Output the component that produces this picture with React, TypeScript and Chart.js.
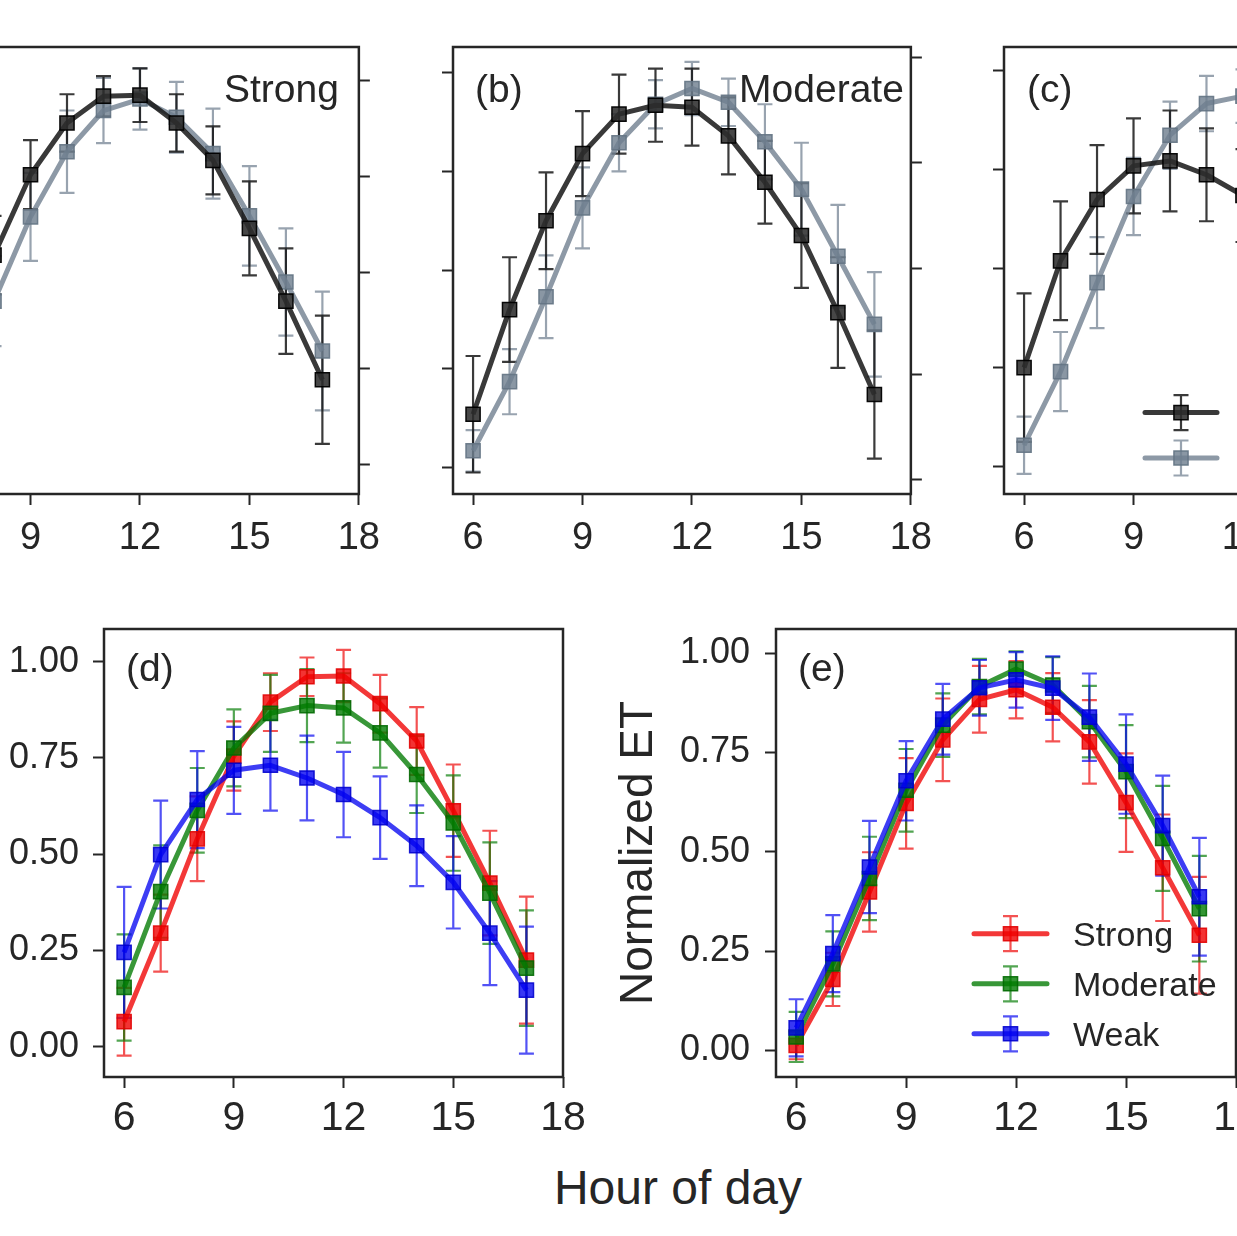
import React, { useEffect, useRef } from "react";
import { Chart, registerables } from "chart.js";

Chart.register(...registerables);

const FONT = "'Liberation Sans', Arial, Helvetica, sans-serif";
const INK = "#262626";

// ---------- data ----------
const hours = [6, 7, 8, 9, 10, 11, 12, 13, 14, 15, 16, 17];
const xTickValues = [6, 9, 12, 15, 18];
const topTickValues = [0, 1, 2, 3, 4];
const normTickValues = [0, 0.25, 0.5, 0.75, 1.0];
const normTickLabels = ["0.00", "0.25", "0.50", "0.75", "1.00"];
const strengthNames = ["Strong", "Moderate", "Weak"];

// panel (a) – Strong (values in the panel's own, unlabelled axis units)
const aBlack = [0.45, 1.3, 2.18, 3.02, 3.56, 3.84, 3.85, 3.56, 3.17, 2.46, 1.7, 0.88];
const aBlackErr = [0.45, 0.43, 0.41, 0.36, 0.3, 0.21, 0.28, 0.3, 0.355, 0.49, 0.55, 0.67];
const aGray = [0.25, 0.9, 1.7, 2.58, 3.26, 3.69, 3.81, 3.62, 3.24, 2.59, 1.9, 1.18];
const aGrayErr = [0.45, 0.47, 0.47, 0.46, 0.43, 0.34, 0.32, 0.37, 0.47, 0.52, 0.56, 0.62];

// panel (b) – Moderate
const bBlack = [0.54, 1.6, 2.5, 3.18, 3.58, 3.67, 3.65, 3.36, 2.89, 2.35, 1.57, 0.74];
const bBlackErr = [0.59, 0.53, 0.49, 0.43, 0.4, 0.37, 0.39, 0.39, 0.42, 0.53, 0.56, 0.65];
const bGray = [0.17, 0.87, 1.73, 2.63, 3.29, 3.68, 3.84, 3.7, 3.3, 2.82, 2.14, 1.45];
const bGrayErr = [0.21, 0.33, 0.42, 0.41, 0.29, 0.245, 0.27, 0.24, 0.38, 0.47, 0.52, 0.53];

// panel (c) – Weak
const cBlack = [1.0, 2.08, 2.7, 3.04, 3.09, 2.95, 2.74, 2.4, 1.95, 1.45, 0.95, 0.45];
const cBlackErr = [0.75, 0.6, 0.55, 0.48, 0.51, 0.47, 0.47, 0.48, 0.5, 0.55, 0.6, 0.65];
const cGray = [0.215, 0.96, 1.86, 2.73, 3.35, 3.67, 3.745, 3.6, 3.3, 2.9, 2.4, 1.8];
const cGrayErr = [0.29, 0.4, 0.46, 0.39, 0.34, 0.28, 0.27, 0.3, 0.35, 0.4, 0.45, 0.5];

// panel (d) – normalized
const dStrong = [0.065, 0.295, 0.54, 0.755, 0.895, 0.961, 0.963, 0.891, 0.794, 0.613, 0.425, 0.225];
const dStrongErr = [0.088, 0.1, 0.11, 0.09, 0.075, 0.05, 0.068, 0.075, 0.088, 0.12, 0.136, 0.165];
const dModerate = [0.154, 0.403, 0.614, 0.776, 0.866, 0.886, 0.88, 0.815, 0.707, 0.581, 0.399, 0.204];
const dModerateErr = [0.138, 0.12, 0.11, 0.1, 0.1, 0.095, 0.09, 0.09, 0.1, 0.124, 0.132, 0.15];
const dWeak = [0.245, 0.499, 0.642, 0.718, 0.731, 0.698, 0.655, 0.595, 0.522, 0.427, 0.295, 0.147];
const dWeakErr = [0.17, 0.14, 0.126, 0.113, 0.118, 0.11, 0.111, 0.107, 0.105, 0.12, 0.135, 0.165];

// panel (e) – normalized ET
const eStrong = [0.013, 0.179, 0.399, 0.622, 0.782, 0.884, 0.908, 0.864, 0.777, 0.624, 0.46, 0.29];
const eStrongErr = [0.035, 0.067, 0.1, 0.114, 0.104, 0.084, 0.072, 0.086, 0.105, 0.124, 0.134, 0.147];
const eModerate = [0.034, 0.218, 0.433, 0.655, 0.819, 0.916, 0.96, 0.92, 0.828, 0.702, 0.534, 0.357];
const eModerateErr = [0.063, 0.082, 0.105, 0.104, 0.08, 0.07, 0.045, 0.07, 0.09, 0.117, 0.132, 0.133];
const eWeak = [0.057, 0.244, 0.462, 0.679, 0.834, 0.913, 0.933, 0.912, 0.839, 0.721, 0.566, 0.387];
const eWeakErr = [0.072, 0.097, 0.116, 0.1, 0.089, 0.07, 0.07, 0.08, 0.11, 0.125, 0.126, 0.148];

// ---------- styles ----------
const STY: any = {
  black: { line: "rgba(22,22,22,0.85)", err: "rgba(15,15,15,0.82)", fill: "rgba(45,45,45,0.88)", edge: "rgba(0,0,0,0.95)" },
  gray: { line: "rgba(112,128,144,0.8)", err: "rgba(112,128,144,0.72)", fill: "rgba(112,128,144,0.82)", edge: "rgba(100,116,132,0.9)" },
  red: { line: "rgba(240,0,0,0.78)", err: "rgba(238,0,0,0.68)", fill: "rgba(240,0,0,0.8)", edge: "rgba(225,0,0,0.88)" },
  green: { line: "rgba(0,122,0,0.78)", err: "rgba(0,122,0,0.68)", fill: "rgba(0,122,0,0.8)", edge: "rgba(0,105,0,0.88)" },
  blue: { line: "rgba(0,0,240,0.76)", err: "rgba(0,0,240,0.68)", fill: "rgba(0,0,240,0.78)", edge: "rgba(0,0,205,0.88)" },
};

const POINT_R = 10;
const CAP = 7.5;
const LINE_W = 5;

function ser(label: string, values: number[], errors: number[], sty: string, order: number) {
  return { label, values, errors, sty: STY[sty], order };
}

const TOP = { boxTop: 47, boxH: 447, leftW: 20, rightW: 30, padRight: 0, padTop: 40, bottomH: 80, xFont: 38, xPad: 11 };
const BOT = { boxTop: 629, boxH: 448, rightW: 0, padRight: 40, padTop: 40, bottomH: 80, xFont: 41, xPad: 6 };

const panels: any[] = [
  {
    id: "a", ...TOP, boxLeft: -99, boxW: 460, dataAxis: "yR",
    yAxes: [
      { id: "yL", position: "left", min: -0.313, max: 4.353, ticks: topTickValues, show: false },
      { id: "yR", position: "right", min: -0.313, max: 4.353, ticks: topTickValues, show: false },
    ],
    series: [ser("gray", aGray, aGrayErr, "gray", 2), ser("black", aBlack, aBlackErr, "black", 1)],
    texts: [{ text: strengthNames[0], side: "right", dx: 20, dy: 55, size: 39 }],
  },
  {
    id: "b", ...TOP, boxLeft: 453, boxW: 460, dataAxis: "yL",
    yAxes: [
      { id: "yL", position: "left", min: -0.268, max: 4.26, ticks: topTickValues, show: false },
      { id: "yR", position: "right", min: -0.136, max: 4.097, ticks: topTickValues, show: false },
    ],
    series: [ser("gray", bGray, bGrayErr, "gray", 2), ser("black", bBlack, bBlackErr, "black", 1)],
    texts: [
      { text: "(b)", side: "left", dx: 22, dy: 55, size: 39 },
      { text: strengthNames[1], side: "right", dx: 7, dy: 55, size: 39 },
    ],
  },
  {
    id: "c", ...TOP, boxLeft: 1004, boxW: 460, dataAxis: "yL",
    yAxes: [
      { id: "yL", position: "left", min: -0.278, max: 4.242, ticks: topTickValues, show: false },
      { id: "yR", position: "right", min: -0.136, max: 4.097, ticks: topTickValues, show: false },
    ],
    series: [ser("gray", cGray, cGrayErr, "gray", 2), ser("black", cBlack, cBlackErr, "black", 1)],
    texts: [{ text: "(c)", side: "left", dx: 23, dy: 55, size: 39 }],
    legend: { x0: 141, x1: 213, textX: 0, size: 34, rows: [{ sty: STY.black, dy: 365.6 }, { sty: STY.gray, dy: 411 }] },
  },
  {
    id: "d", ...BOT, boxLeft: 104, boxW: 459, leftW: 104, dataAxis: "y",
    yAxes: [{ id: "y", position: "left", min: -0.0787, max: 1.085, ticks: normTickValues, labels: normTickLabels, show: true, pad: 14 }],
    series: [
      ser(strengthNames[0], dStrong, dStrongErr, "red", 3),
      ser(strengthNames[1], dModerate, dModerateErr, "green", 2),
      ser(strengthNames[2], dWeak, dWeakErr, "blue", 1),
    ],
    texts: [{ text: "(d)", side: "left", dx: 22, dy: 52, size: 39 }],
  },
  {
    id: "e", ...BOT, boxLeft: 776, boxW: 460, leftW: 176, dataAxis: "y",
    yAxes: [{
      id: "y", position: "left", min: -0.0667, max: 1.061, ticks: normTickValues, labels: normTickLabels, show: true, pad: 15,
      title: { text: "Normalized ET", size: 46, padTop: 11.4 },
    }],
    series: [
      ser(strengthNames[0], eStrong, eStrongErr, "red", 3),
      ser(strengthNames[1], eModerate, eModerateErr, "green", 2),
      ser(strengthNames[2], eWeak, eWeakErr, "blue", 1),
    ],
    texts: [{ text: "(e)", side: "left", dx: 22, dy: 52, size: 39 }],
    legend: {
      x0: 198, x1: 271, textX: 297, size: 34,
      rows: [
        { sty: STY.red, dy: 304.7, text: strengthNames[0] },
        { sty: STY.green, dy: 354.8, text: strengthNames[1] },
        { sty: STY.blue, dy: 404.8, text: strengthNames[2] },
      ],
    },
  },
];

function geom(p: any) {
  const W = p.leftW + p.boxW + p.rightW + p.padRight;
  const H = p.padTop + p.boxH + p.bottomH;
  return { left: p.boxLeft - p.leftW, top: p.boxTop - p.padTop, W, H };
}

function drawMarker(ctx: CanvasRenderingContext2D, x: number, y: number, sty: any) {
  const s = POINT_R * Math.SQRT1_2;
  ctx.fillStyle = sty.fill;
  ctx.strokeStyle = sty.edge;
  ctx.lineWidth = 1.5;
  ctx.beginPath();
  ctx.rect(x - s, y - s, 2 * s, 2 * s);
  ctx.fill();
  ctx.stroke();
}

const errorBarPlugin = {
  id: "errorBars",
  beforeDatasetsDraw(chart: any) {
    const { ctx, chartArea } = chart;
    ctx.save();
    ctx.beginPath();
    ctx.rect(chartArea.left, chartArea.top, chartArea.right - chartArea.left, chartArea.bottom - chartArea.top);
    ctx.clip();
    chart.data.datasets.forEach((ds: any, di: number) => {
      const meta = chart.getDatasetMeta(di);
      const ys = chart.scales[meta.yAxisID];
      const xs = chart.scales[meta.xAxisID];
      ctx.strokeStyle = ds.errColor;
      ctx.lineWidth = 2.2;
      ds.data.forEach((pt: any, i: number) => {
        const e = ds.errors[i];
        const x = xs.getPixelForValue(pt.x);
        const y1 = ys.getPixelForValue(pt.y + e);
        const y2 = ys.getPixelForValue(pt.y - e);
        ctx.beginPath();
        ctx.moveTo(x, y1);
        ctx.lineTo(x, y2);
        ctx.moveTo(x - CAP, y1);
        ctx.lineTo(x + CAP, y1);
        ctx.moveTo(x - CAP, y2);
        ctx.lineTo(x + CAP, y2);
        ctx.stroke();
      });
    });
    ctx.restore();
  },
};

const framePlugin = {
  id: "frame",
  afterDatasetsDraw(chart: any) {
    const { ctx, chartArea: a } = chart;
    ctx.save();
    ctx.strokeStyle = INK;
    ctx.lineWidth = 2.5;
    ctx.strokeRect(a.left, a.top, a.right - a.left, a.bottom - a.top);
    ctx.restore();
  },
};

const decorPlugin = {
  id: "decor",
  afterDraw(chart: any, _args: any, opts: any) {
    const { ctx, chartArea: a } = chart;
    const p = opts.panel;
    ctx.save();
    (p.texts || []).forEach((t: any) => {
      ctx.font = `${t.size}px ${FONT}`;
      ctx.fillStyle = INK;
      ctx.textBaseline = "alphabetic";
      if (t.side === "right") {
        ctx.textAlign = "right";
        ctx.fillText(t.text, a.right - t.dx, a.top + t.dy);
      } else {
        ctx.textAlign = "left";
        ctx.fillText(t.text, a.left + t.dx, a.top + t.dy);
      }
    });
    const lg = p.legend;
    if (lg) {
      lg.rows.forEach((r: any) => {
        const y = a.top + r.dy;
        const x0 = a.left + lg.x0;
        const x1 = a.left + lg.x1;
        const xm = (x0 + x1) / 2;
        ctx.lineCap = "round";
        ctx.strokeStyle = r.sty.line;
        ctx.lineWidth = LINE_W;
        ctx.beginPath();
        ctx.moveTo(x0, y);
        ctx.lineTo(x1, y);
        ctx.stroke();
        ctx.lineCap = "butt";
        ctx.strokeStyle = r.sty.err;
        ctx.lineWidth = 2.2;
        ctx.beginPath();
        ctx.moveTo(xm, y - 17.5);
        ctx.lineTo(xm, y + 17.5);
        ctx.moveTo(xm - CAP, y - 17.5);
        ctx.lineTo(xm + CAP, y - 17.5);
        ctx.moveTo(xm - CAP, y + 17.5);
        ctx.lineTo(xm + CAP, y + 17.5);
        ctx.stroke();
        drawMarker(ctx, xm, y, r.sty);
        if (r.text) {
          ctx.font = `${lg.size}px ${FONT}`;
          ctx.fillStyle = INK;
          ctx.textAlign = "left";
          ctx.textBaseline = "alphabetic";
          ctx.fillText(r.text, a.left + lg.textX, y + 0.358 * lg.size);
        }
      });
    }
    ctx.restore();
  },
};

function buildConfig(p: any) {
  const tickGrid = {
    display: true,
    drawOnChartArea: false,
    drawTicks: true,
    tickLength: 11,
    tickWidth: 2,
    tickColor: INK,
    color: INK,
  };
  const scales: any = {
    x: {
      type: "linear",
      position: "bottom",
      min: 5.45,
      max: 18,
      bounds: "data",
      afterBuildTicks: (s: any) => {
        s.ticks = xTickValues.map((v) => ({ value: v }));
      },
      afterFit: (s: any) => {
        s.height = p.bottomH;
      },
      ticks: {
        autoSkip: false,
        maxRotation: 0,
        minRotation: 0,
        padding: p.xPad,
        color: INK,
        font: { family: FONT, size: p.xFont },
        callback: (v: any) => String(v),
      },
      grid: tickGrid,
      border: { display: false },
    },
  };
  p.yAxes.forEach((ax: any) => {
    const w = ax.position === "left" ? p.leftW : p.rightW;
    scales[ax.id] = {
      type: "linear",
      position: ax.position,
      min: ax.min,
      max: ax.max,
      bounds: "data",
      afterBuildTicks: (s: any) => {
        s.ticks = ax.ticks.map((v: number) => ({ value: v }));
      },
      afterFit: (s: any) => {
        s.width = w;
      },
      ticks: {
        display: ax.show,
        autoSkip: false,
        padding: ax.pad || 10,
        color: INK,
        font: { family: FONT, size: 36 },
        callback: (v: any, i: number) => (ax.labels ? ax.labels[i] : String(v)),
      },
      grid: tickGrid,
      border: { display: false },
      title: ax.title
        ? {
            display: true,
            text: ax.title.text,
            color: INK,
            font: { family: FONT, size: ax.title.size },
            padding: { top: ax.title.padTop, bottom: 0 },
          }
        : { display: false },
    };
  });

  const datasets = p.series.map((s: any) => ({
    label: s.label,
    data: hours.map((h, i) => ({ x: h, y: s.values[i] })),
    errors: s.errors,
    errColor: s.sty.err,
    xAxisID: "x",
    yAxisID: p.dataAxis,
    borderColor: s.sty.line,
    backgroundColor: s.sty.fill,
    borderWidth: LINE_W,
    borderJoinStyle: "round",
    tension: 0,
    fill: false,
    showLine: true,
    pointStyle: "rect",
    pointRadius: POINT_R,
    pointHoverRadius: POINT_R,
    pointBorderWidth: 1.5,
    pointBackgroundColor: s.sty.fill,
    pointBorderColor: s.sty.edge,
    order: s.order,
  }));

  return {
    type: "line",
    data: { datasets },
    options: {
      animation: false,
      responsive: false,
      events: [],
      layout: { padding: { top: p.padTop, left: 0, right: p.padRight, bottom: 0 } },
      scales,
      plugins: {
        legend: { display: false },
        tooltip: { enabled: false },
        title: { display: false },
        decor: { panel: p },
      },
    },
    plugins: [errorBarPlugin, framePlugin, decorPlugin],
  };
}

function Panel({ spec }: { spec: any }) {
  const ref = useRef<HTMLCanvasElement | null>(null);
  const g = geom(spec);
  useEffect(() => {
    if (!ref.current) return;
    const chart = new Chart(ref.current, buildConfig(spec) as any);
    return () => chart.destroy();
  }, [spec]);
  return (
    <canvas
      ref={ref}
      width={g.W}
      height={g.H}
      style={{ position: "absolute", left: g.left, top: g.top, width: g.W, height: g.H }}
    />
  );
}

export default function App() {
  return (
    <div
      style={{
        position: "fixed",
        left: 0,
        top: 0,
        width: 1237,
        height: 1236,
        overflow: "hidden",
        background: "#ffffff",
        fontFamily: FONT,
      }}
    >
      {panels.map((p) => (
        <Panel key={p.id} spec={p} />
      ))}
      <div
        style={{
          position: "absolute",
          left: 678,
          top: 1164,
          transform: "translateX(-50%)",
          fontSize: 48,
          lineHeight: "48px",
          whiteSpace: "nowrap",
          color: INK,
          fontFamily: FONT,
        }}
      >
        Hour of day
      </div>
    </div>
  );
}
